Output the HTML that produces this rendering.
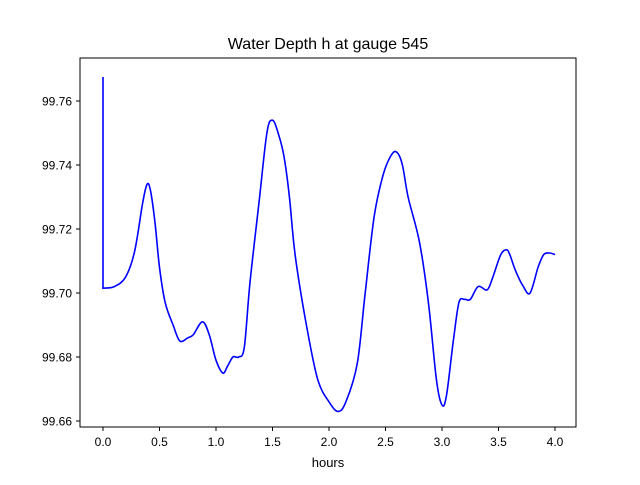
<!DOCTYPE html>
<html><head><meta charset="utf-8"><style>
body{margin:0;background:#fff;width:640px;height:480px;overflow:hidden;font-family:"Liberation Sans","DejaVu Sans",sans-serif}
</style></head><body>
<svg id="chart" width="640" height="480" xmlns="http://www.w3.org/2000/svg">
<rect width="640" height="480" fill="#fff"/>
<text x="328" y="49" text-anchor="middle" font-size="16">Water Depth h at gauge 545</text>
<g id="ticks"></g>
<path id="line" fill="none" stroke="#0000ff" stroke-width="1.6"/>
<rect x="80" y="58" width="496" height="369" fill="none" stroke="#000" stroke-width="1"/>
<text x="328" y="467" text-anchor="middle" font-size="13">hours</text>
</svg>
<script>
const hours=[0,0,0.1,0.2,0.28,0.35,0.39,0.42,0.46,0.5,0.55,0.62,0.68,0.75,0.8,0.88,0.94,1.0,1.06,1.1,1.15,1.2,1.25,1.3,1.38,1.45,1.5,1.55,1.6,1.65,1.7,1.8,1.9,2.0,2.08,2.15,2.25,2.32,2.4,2.48,2.55,2.6,2.65,2.7,2.8,2.88,2.95,3.0,3.04,3.1,3.15,3.2,3.25,3.32,3.4,3.45,3.52,3.57,3.6,3.65,3.72,3.78,3.85,3.9,3.95,4.0];
const depth=[99.7675,99.7015,99.702,99.705,99.713,99.728,99.734,99.732,99.722,99.708,99.697,99.690,99.685,99.686,99.687,99.691,99.687,99.679,99.675,99.677,99.680,99.680,99.683,99.703,99.728,99.750,99.754,99.750,99.743,99.730,99.712,99.690,99.673,99.666,99.663,99.666,99.678,99.700,99.724,99.737,99.743,99.744,99.740,99.730,99.716,99.697,99.673,99.665,99.668,99.685,99.697,99.698,99.698,99.702,99.701,99.705,99.712,99.7135,99.712,99.707,99.702,99.700,99.708,99.712,99.7125,99.712];
const xTicks=[0,0.5,1,1.5,2,2.5,3,3.5,4];
const xTickLabels=["0.0","0.5","1.0","1.5","2.0","2.5","3.0","3.5","4.0"];
const yTicks=[99.66,99.68,99.70,99.72,99.74,99.76];
const yTickLabels=["99.66","99.68","99.70","99.72","99.74","99.76"];
const X=v=>103+v*113;
const Y=v=>101+(99.76-v)*3200;
const NS="http://www.w3.org/2000/svg";
const g=document.getElementById('ticks');
function mk(t,a){const e=document.createElementNS(NS,t);for(const k in a)e.setAttribute(k,a[k]);g.appendChild(e);return e;}
xTicks.forEach((v,i)=>{
  const l=mk('line',{x1:X(v),x2:X(v),y1:427,y2:431,stroke:'#000'});
  
  
  const t=mk('text',{x:X(v),y:446,'text-anchor':'middle','font-size':12});
  
  
  t.textContent=xTickLabels[i];
});
yTicks.forEach((v,i)=>{
  const l=mk('line',{x1:76,x2:80,y1:Y(v),y2:Y(v),stroke:'#000'});
  
  
  const t=mk('text',{x:72,y:Y(v)+4.5,'text-anchor':'end','font-size':12});
  
  
  t.textContent=yTickLabels[i];
});
const P=hours.map((h,i)=>[X(h),Y(depth[i])]);
let d='M'+P[0][0].toFixed(1)+','+P[0][1].toFixed(1)+'L'+P[1][0].toFixed(1)+','+P[1][1].toFixed(1);
for(let i=1;i<P.length-1;i++){
  const p0=P[Math.max(1,i-1)],p1=P[i],p2=P[i+1],p3=P[Math.min(P.length-1,i+2)];
  const c1=[p1[0]+(p2[0]-p0[0])/6,p1[1]+(p2[1]-p0[1])/6];
  const c2=[p2[0]-(p3[0]-p1[0])/6,p2[1]-(p3[1]-p1[1])/6];
  d+='C'+c1[0].toFixed(1)+','+c1[1].toFixed(1)+' '+c2[0].toFixed(1)+','+c2[1].toFixed(1)+' '+p2[0].toFixed(1)+','+p2[1].toFixed(1);
}
document.getElementById('line').setAttribute('d',d);
</script>
</body></html>
